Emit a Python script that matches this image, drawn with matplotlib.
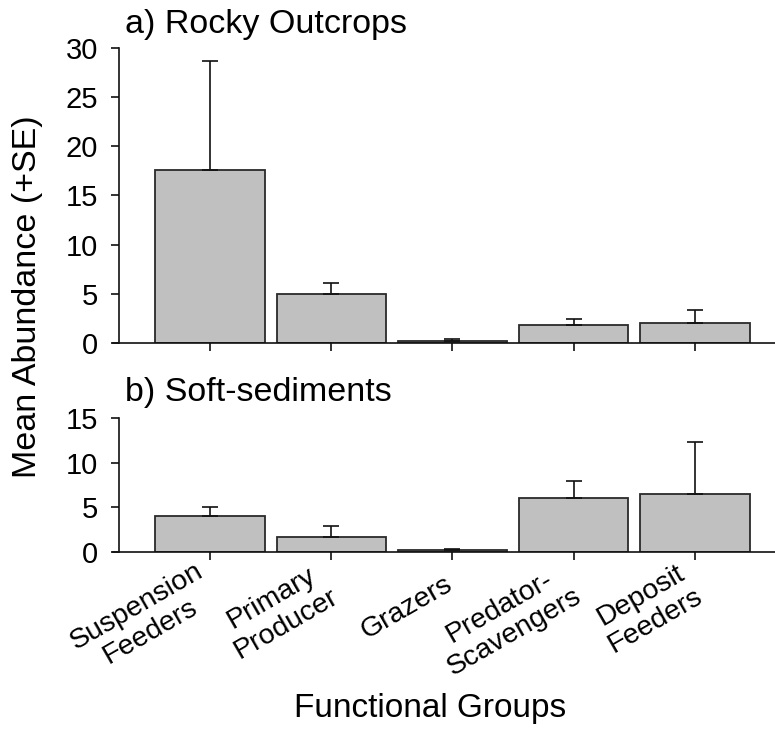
import matplotlib
matplotlib.use("Agg")
import matplotlib.pyplot as plt
import matplotlib.transforms as mtransforms
import numpy as np

plt.rcParams['font.family'] = ['Liberation Sans', 'DejaVu Sans']

categories = ["Suspension\nFeeders", "Primary\nProducer", "Grazers",
              "Predator-\nScavengers", "Deposit\nFeeders"]
rocky_mean = [17.6, 5.0, 0.2, 1.8, 2.0]
rocky_se = [11.0, 1.1, 0.17, 0.6, 1.4]
soft_mean = [4.0, 1.7, 0.2, 6.0, 6.45]
soft_se = [1.0, 1.15, 0.1, 2.0, 5.85]

W, H = 775, 731
fig = plt.figure(figsize=(W / 100, H / 100), dpi=100)

ax_left = 113 / W
ax_w = 1.0 - ax_left
ax1 = fig.add_axes([ax_left, 1 - 343 / H, ax_w, (343 - 47.7) / H])
ax2 = fig.add_axes([ax_left, 1 - 551.7 / H, ax_w, (551.7 - 418.3) / H])

x = np.arange(len(categories))
face = '#c0c0c0'
edge = '#2a2a2a'

def style(ax, ylim, yticks):
    ax.set_ylim(*ylim)
    ax.set_yticks(yticks)
    ax.set_xlim(-0.80, 4.66)
    ax.spines['top'].set_visible(False)
    ax.spines['right'].set_visible(False)
    frac = 6 / (ax_w * W)
    ax.spines['left'].set_position(('axes', frac))
    for s in ['left', 'bottom']:
        ax.spines[s].set_linewidth(1.2)
        ax.spines[s].set_color('#111111')
    ax.tick_params(axis='both', direction='out', length=6, width=1.2,
                   color='#111111', labelsize=21)
    ax.tick_params(axis='y', pad=9)
    ax.set_xticks(x)

for ax, means, ses, ylim, yt in [(ax1, rocky_mean, rocky_se, (0, 30), [0, 5, 10, 15, 20, 25, 30]),
                                 (ax2, soft_mean, soft_se, (0, 15), [0, 5, 10, 15])]:
    ax.bar(x, means, width=0.9, color=face, edgecolor=edge, linewidth=1.3, zorder=2)
    ax.errorbar(x, means, yerr=[[0] * len(x), ses], fmt='none', ecolor='#111111',
                elinewidth=1.2, capsize=5.8, capthick=1.2, zorder=3)
    style(ax, ylim, yt)

ax1.set_xticklabels([])
ax2.set_xticklabels(categories, rotation=30, ha='right', va='center',
                    rotation_mode='anchor', multialignment='center', fontsize=20.5,
                    linespacing=1.15)
ax2.tick_params(axis='x', pad=16)
shift = mtransforms.ScaledTranslation(-2 / 100, 0, fig.dpi_scale_trans)
for lbl in ax2.get_xticklabels():
    lbl.set_transform(lbl.get_transform() + shift)

fig.text(125 / W, 1 - 33 / H, "a) Rocky Outcrops", fontsize=24.5, ha='left', va='baseline')
fig.text(125 / W, 1 - 400.7 / H, "b) Soft-sediments", fontsize=24.5, ha='left', va='baseline')
fig.text(28 / W, 1 - 297 / H, "Mean Abundance (+SE)", fontsize=24.5, rotation=90,
         ha='center', va='center')
fig.text(430 / W, 1 - 717 / H, "Functional Groups", fontsize=24, ha='center', va='baseline')

fig.savefig("out.png", dpi=100)
